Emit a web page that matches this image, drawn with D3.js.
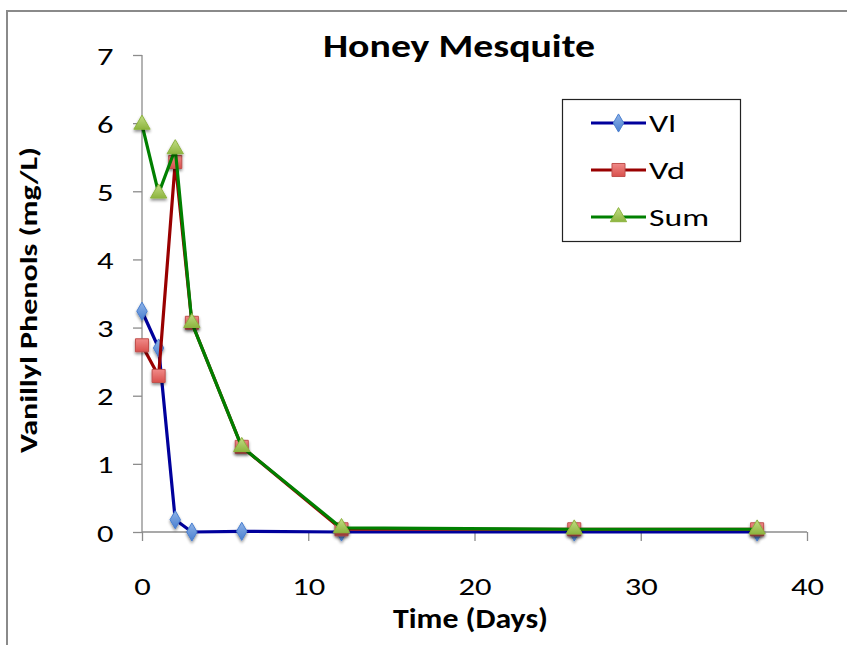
<!DOCTYPE html>
<html><head><meta charset="utf-8">
<script src="https://cdn.jsdelivr.net/npm/d3@7"></script>
<style>body{margin:0;background:#fff}svg{display:block}text{font-family:Carlito,Lato,sans-serif;fill:#000}</style>
</head><body><svg id="c" width="847" height="645"></svg>
<script>
const days = [0, 1, 2, 3, 6, 12, 26, 37];
const vl  = [3.24, 2.70, 0.18, 0.00, 0.01, 0.00, 0.00, 0.00];
const vd  = [2.74, 2.29, 5.43, 3.07, 1.25, 0.04, 0.04, 0.04];
const sum = [5.98, 4.97, 5.62, 3.07, 1.25, 0.06, 0.04, 0.04];
const seriesNames = ["Vl", "Vd", "Sum"];
const xTicks = [0, 10, 20, 30, 40];
const yTicks = [0, 1, 2, 3, 4, 5, 6, 7];

const svg = d3.select("#c");
const x = d3.scaleLinear().domain([0, 40]).range([142, 807]);
const y = d3.scaleLinear().domain([0, 7]).range([532, 55]);

const defs = svg.append("defs");
const f = defs.append("filter").attr("id","sh").attr("x","-50%").attr("y","-50%").attr("width","200%").attr("height","200%");
f.append("feGaussianBlur").attr("in","SourceAlpha").attr("stdDeviation",1.5).attr("result","b");
f.append("feOffset").attr("in","b").attr("dx",0).attr("dy",2).attr("result","o");
f.append("feComponentTransfer").attr("in","o").attr("result","o2").append("feFuncA").attr("type","linear").attr("slope",0.45);
const m = f.append("feMerge"); m.append("feMergeNode").attr("in","o2"); m.append("feMergeNode").attr("in","SourceGraphic");

function grad(id, c1, c2){
  const g = defs.append("linearGradient").attr("id",id).attr("x1",0).attr("y1",0).attr("x2",0).attr("y2",1);
  g.append("stop").attr("offset","0%").attr("stop-color",c1);
  g.append("stop").attr("offset","100%").attr("stop-color",c2);
}
grad("gb","#8fb4e8","#4a7fcf");
grad("gr","#f08a88","#d9504c");
grad("gg","#c3de86","#8db43f");

// outer border
svg.append("rect").attr("x",7).attr("y",11).attr("width",900).attr("height",700)
  .attr("fill","none").attr("stroke","#8a8a8a").attr("stroke-width",2);

// axes
const xAx = svg.append("g").attr("transform","translate(0,532)")
  .call(d3.axisBottom(x).tickValues(xTicks).tickSize(9).tickFormat(d3.format("d")));
const yAx = svg.append("g").attr("transform","translate(142,0)")
  .call(d3.axisLeft(y).tickValues(yTicks).tickSize(9).tickFormat(d3.format("d")));
[xAx,yAx].forEach(a=>{
  a.select(".domain").attr("stroke","#8c8c8c").attr("stroke-width",1.3);
  a.selectAll(".tick line").attr("stroke","#8c8c8c").attr("stroke-width",1.3);
  a.selectAll(".tick text").attr("font-size",25).attr("font-family","Carlito,Lato,sans-serif").attr("fill","#111")
    .attr("lengthAdjust","spacingAndGlyphs").attr("textLength",d=>String(d).length*16.5);
});
xAx.selectAll(".tick text").attr("y",63).attr("dy",0);
yAx.selectAll(".tick text").attr("x",-28.5).attr("dy","0.36em");
xAx.select(".domain").attr("d","M142,0H807");
yAx.select(".domain").attr("d","M0,55V532");

// titles
svg.append("text").attr("x",323).attr("y",57)
  .attr("font-size",32).attr("font-weight","bold")
  .attr("textLength",272).attr("lengthAdjust","spacingAndGlyphs").text("Honey Mesquite");
svg.append("text").attr("x",393).attr("y",628)
  .attr("font-size",28).attr("font-weight","bold")
  .attr("textLength",155).attr("lengthAdjust","spacingAndGlyphs").text("Time (Days)");
svg.append("text").attr("transform","translate(37,453) rotate(-90)")
  .attr("font-size",24).attr("font-weight","bold")
  .attr("textLength",306).attr("lengthAdjust","spacingAndGlyphs").text("Vanillyl Phenols (mg/L)");

const series = [
  {name: seriesNames[0], vals: vl,  line:"#00009c", fill:"url(#gb)", stroke:"#4a7fcf", shape:d3.symbolDiamond, size:95,  tw:27},
  {name: seriesNames[1], vals: vd,  line:"#990000", fill:"url(#gr)", stroke:"#c0504d", shape:d3.symbolSquare, size:170, tw:36},
  {name: seriesNames[2], vals: sum, line:"#008000", fill:"url(#gg)", stroke:"#8db43f", shape:d3.symbolTriangle, size:115, tw:60},
];
const line = d3.line().x(d=>x(d[0])).y(d=>y(d[1]));
series.forEach(s=>{
  const pts = days.map((d,i)=>[d, s.vals[i]]);
  svg.append("path").datum(pts).attr("d",line).attr("fill","none")
    .attr("stroke",s.line).attr("stroke-width",3.2).attr("stroke-linejoin","round");
  svg.append("g").selectAll("path").data(pts).join("path")
    .attr("transform",d=>`translate(${x(d[0])},${y(d[1])})`)
    .attr("d",d3.symbol().type(s.shape).size(s.size))
    .attr("fill",s.fill).attr("stroke",s.stroke).attr("stroke-width",1)
    .attr("filter","url(#sh)");
});

// legend
const lg = svg.append("g");
lg.append("rect").attr("x",562.5).attr("y",99.5).attr("width",178).attr("height",142)
  .attr("fill","#fff").attr("stroke","#222").attr("stroke-width",1.2);
series.forEach((s,i)=>{
  const cy = 123 + i*47;
  lg.append("line").attr("x1",591).attr("x2",646).attr("y1",cy).attr("y2",cy)
    .attr("stroke",s.line).attr("stroke-width",3.2);
  lg.append("path").attr("transform",`translate(618.5,${cy})`)
    .attr("d",d3.symbol().type(s.shape).size(s.size)).attr("fill",s.fill).attr("stroke",s.stroke).attr("stroke-width",1);
  lg.append("text").attr("x",649).attr("y",cy+9).attr("font-size",24)
    .attr("textLength",s.tw).attr("lengthAdjust","spacingAndGlyphs").text(s.name);
});
</script></body></html>
